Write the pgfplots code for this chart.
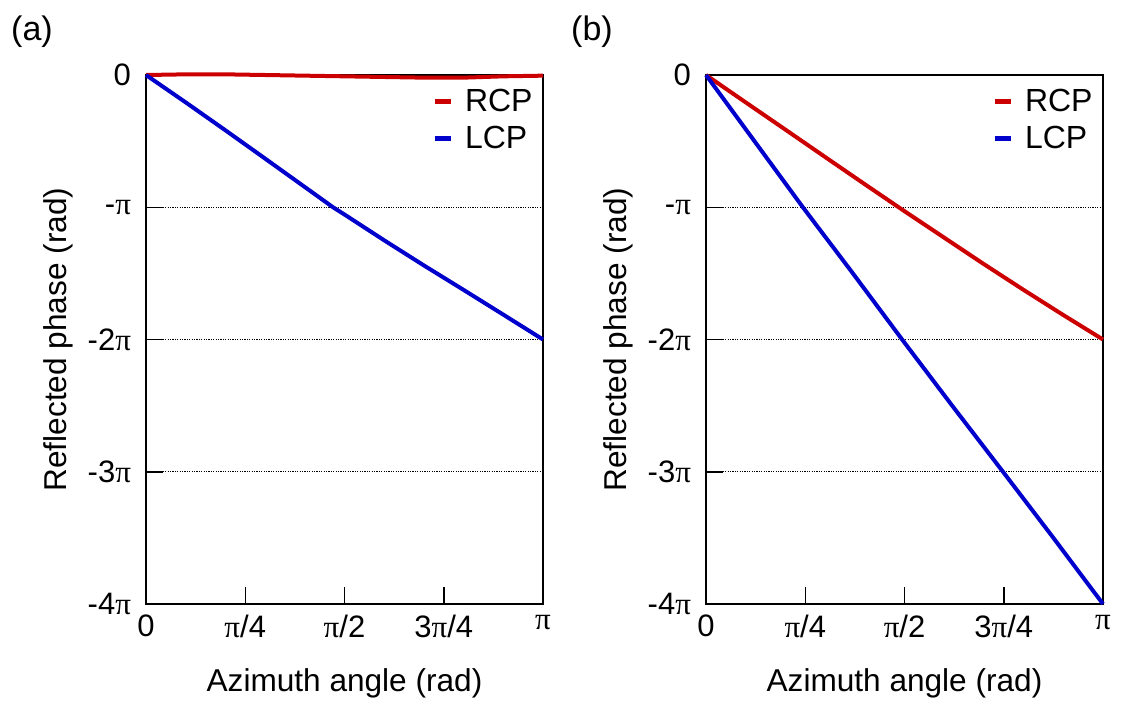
\documentclass[border=0pt]{standalone}
\usepackage{fontspec}
\setmainfont{Liberation Sans}
\newfontfamily\pifont{Liberation Serif}
\newcommand{\p}{{\pifont π}}
\usepackage{pgfplots}
\pgfplotsset{compat=1.18}
\definecolor{rcp}{RGB}{204,0,0}
\definecolor{lcp}{RGB}{0,0,204}
\pgfplotsset{myax/.style={
 scale only axis, width=198.5pt, height=264.5pt,
 xmin=0,xmax=1,ymin=-4,ymax=0,
 axis line style={line width=0.75pt},
 every tick/.style={black, line width=0.75pt},
 major tick length=8.5pt, tick align=inside, xtick pos=bottom, ytick pos=left,
 xtick={0,0.25,0.5,0.75,1}, xticklabels={0,\p/4,\p/2,3\p/4,\p},
 ytick={-4,-3,-2,-1,0}, yticklabels={-4\p,-3\p,-2\p,-\p,0},
 ymajorgrids, grid style={line width=0.7pt, black, dash pattern=on 0.6pt off 0.6pt},
 tick label style={font=\fontsize{15.5}{18}\selectfont},
 xticklabel style={yshift=-2pt},
 yticklabel style={xshift=-4pt},
 label style={font=\fontsize{15.8}{19}\selectfont},
 xlabel={Azimuth angle (rad)}, ylabel={Reflected phase (rad)},
 xlabel style={at={(axis description cs:0.5,-0.1493)},anchor=center},
 ylabel style={at={(axis description cs:-0.2217,0.5)},anchor=center},
 legend style={draw=none, fill=none, at={(axis description cs:1.0,0.99)}, anchor=north east, font=\fontsize{16}{18}\selectfont, row sep=2pt},
 legend cell align=left,
 legend image code/.code={\draw[line width=2.5pt] (0pt,0pt) -- (8pt,0pt); \path (12pt,0pt);},
 every axis plot/.append style={line width=2pt},
 clip=false,
}}
\begin{document}
\begin{tikzpicture}
\useasboundingbox (0,0) rectangle (560.5pt,351.5pt);
\node[font=\fontsize{17}{20}\selectfont] at (16pt,335.5pt) {(a)};
\node[font=\fontsize{17}{20}\selectfont] at (296pt,335.5pt) {(b)};
\begin{axis}[myax, at={(73pt,49.5pt)}, anchor=south west]
\addplot[rcp] coordinates {(0,0) (0.1,0.005) (0.2,0.005) (0.3,0.0) (0.4,-0.005) (0.5,-0.01) (0.6,-0.015) (0.7,-0.02) (0.8,-0.02) (0.9,-0.01) (1,-0.005)};
\addlegendentry{RCP}
\addplot[lcp] coordinates {(0,0) (0.1,-0.207) (0.2,-0.418) (0.3,-0.632) (0.4,-0.847) (0.471,-1) (0.5,-1.055) (0.6,-1.25) (0.7,-1.44) (0.8,-1.625) (0.9,-1.812) (1,-2)};
\addlegendentry{LCP}
\end{axis}
\begin{axis}[myax, at={(353pt,49.5pt)}, anchor=south west]
\addplot[rcp] coordinates {(0,0) (0.1,-0.207) (0.2,-0.413) (0.3,-0.62) (0.4,-0.826) (0.5,-1.03) (0.6,-1.23) (0.7,-1.43) (0.8,-1.625) (0.9,-1.815) (1,-2)};
\addlegendentry{RCP}
\addplot[lcp] coordinates {(0,0) (0.122,-0.5) (0.244,-1) (0.37,-1.5) (0.494,-2) (0.62,-2.5) (0.748,-3) (0.875,-3.5) (1,-4)};
\addlegendentry{LCP}
\end{axis}
\end{tikzpicture}
\end{document}
